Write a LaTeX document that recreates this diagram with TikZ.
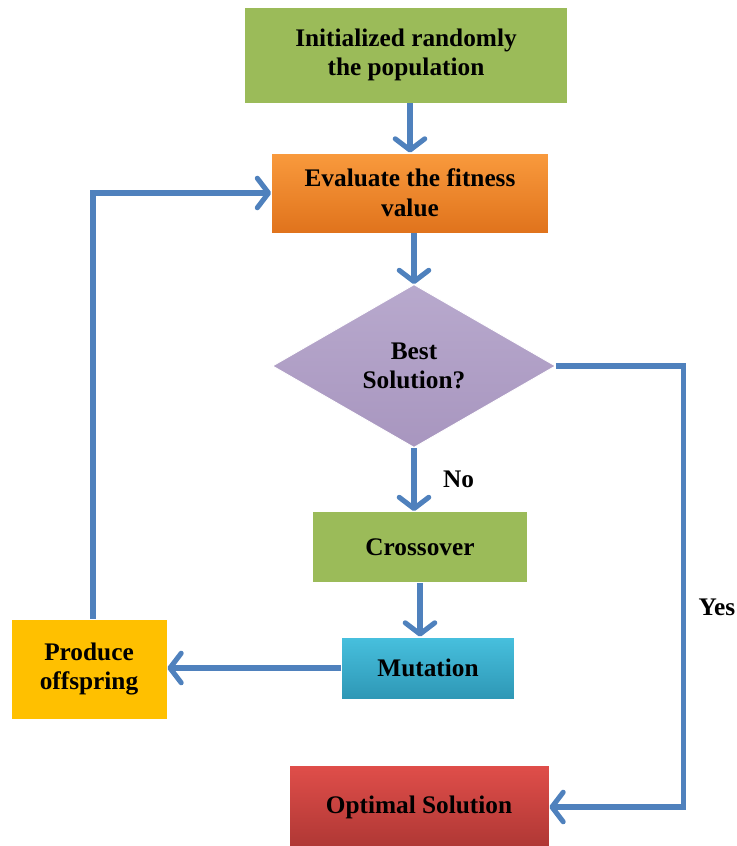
\documentclass[tikz,border=0pt]{standalone}
\usepackage{fontspec}
\setmainfont{Liberation Serif}
\usepackage{tikz}
\usetikzlibrary{shapes.geometric, arrows.meta, positioning, calc}
\definecolor{leafgreen}{HTML}{9BBB59}
\definecolor{evalorange}{HTML}{F99A3D}
\definecolor{evalorangedark}{HTML}{E0731C}
\definecolor{lavender}{HTML}{B8A9CD}
\definecolor{lavenderdark}{HTML}{A896BF}
\definecolor{mutcyan}{HTML}{47C0DE}
\definecolor{mutcyandark}{HTML}{2E97B5}
\definecolor{offgold}{HTML}{FFC000}
\definecolor{optred}{HTML}{E04E4A}
\definecolor{optreddark}{HTML}{AE3734}
\definecolor{flowblue}{HTML}{4F81BD}

\tikzset{
  stepbox/.style={rectangle, draw=white, line width=0.6pt, align=center,
    font=\fontsize{18}{21}\selectfont\bfseries, inner sep=0pt},
  decision/.style={diamond, draw=white, line width=0.6pt, align=center,
    font=\fontsize{18}{21}\selectfont\bfseries, inner sep=0pt},
  flow/.style={flowblue, line width=3.6pt,
    -{Straight Barb[round, length=8pt, width=21pt]}},
  flowlabel/.style={black, font=\fontsize{18}{18}\selectfont\bfseries}
}

\begin{document}
\begin{tikzpicture}
  \useasboundingbox (0,0) rectangle (18.425,-21.15);

  % Main column of steps
  \node[stepbox, fill=leafgreen, minimum width=8.075cm, minimum height=2.4cm]
    (init) at (10.15,-1.375) {Initialized randomly\\the population};
  \node[stepbox, top color=evalorange, bottom color=evalorangedark,
    minimum width=6.925cm, minimum height=2.0cm]
    (eval) at (10.25,-4.825) {Evaluate the fitness\\value};
  \node[decision, top color=lavender, bottom color=lavenderdark,
    minimum width=7.075cm, minimum height=4.075cm]
    (best) at (10.35,-9.15) {Best\\Solution?};
  \node[stepbox, fill=leafgreen, minimum width=5.375cm, minimum height=1.775cm]
    (cross) at (10.5,-13.675) {Crossover};
  \node[stepbox, top color=mutcyan, bottom color=mutcyandark,
    minimum width=4.325cm, minimum height=1.55cm]
    (mut) at (10.7,-16.7) {Mutation};

  % Side boxes
  \node[stepbox, fill=offgold, minimum width=3.9cm, minimum height=2.5cm]
    (offspring) at (2.225,-16.725) {Produce\\offspring};
  \node[stepbox, top color=optred, bottom color=optreddark,
    minimum width=6.5cm, minimum height=2.1cm]
    (optimal) at (10.475,-20.175) {Optimal Solution};

  % Flow arrows
  \draw[flow] (init.south -| eval.north) -- (eval.north);
  \draw[flow] (eval.south -| best.north) -- (best.north);
  \draw[flow] (best.south) -- (best.south |- cross.north)
    node[flowlabel, midway, right=0.55cm] (no) {No};
  \draw[flow] (cross.south) -- (cross.south |- mut.north);
  \draw[flow] (mut.west) -- (mut.west -| offspring.east);

  % Loop back to evaluation
  \draw[flow] ([xshift=0.1cm]offspring.north) |- (eval.west);

  % Yes branch down the right side
  \coordinate (yescorner) at ($(best.east)+(3.2,0)$);
  \draw[flow] (best.east) -- (yescorner) |- (optimal.east);
  \node[flowlabel] (yes) at (17.925,-15.175) {Yes};
\end{tikzpicture}
\end{document}
